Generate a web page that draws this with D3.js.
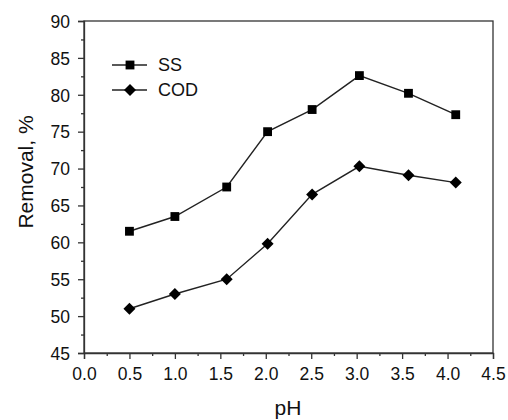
<!DOCTYPE html>
<html><head><meta charset="utf-8">
<script src="https://cdn.jsdelivr.net/npm/d3@7"></script>
<style>body{margin:0;background:#fff}svg{display:block}text{font-family:"Liberation Sans",Arial,sans-serif;fill:#111}</style>
</head><body>
<svg id="c" width="508" height="420"></svg>
<script>
const phSS = [0.5, 1.0, 1.57, 2.02, 2.51, 3.03, 3.57, 4.09];
const ssValues = [61.5, 63.5, 67.5, 75.0, 78.0, 82.6, 80.2, 77.3];
const phCOD = [0.5, 1.0, 1.57, 2.02, 2.51, 3.03, 3.57, 4.09];
const codValues = [51.0, 53.0, 55.0, 59.8, 66.5, 70.3, 69.1, 68.1];
const xTicks = [0.0, 0.5, 1.0, 1.5, 2.0, 2.5, 3.0, 3.5, 4.0, 4.5];
const yTicks = [45, 50, 55, 60, 65, 70, 75, 80, 85, 90];
const seriesNames = ["SS", "COD"];

const svg = d3.select("#c");
const L = 84, R = 493, T = 21, B = 353;
const x = d3.scaleLinear().domain([0, 4.5]).range([L, R]);
const y = d3.scaleLinear().domain([45, 90]).range([B, T]);
const axisColor = "#333";

svg.append("rect").attr("x", L).attr("y", T).attr("width", R - L).attr("height", B - T)
  .attr("fill", "none").attr("stroke", axisColor).attr("stroke-width", 1.3);

const xMinor = d3.range(0.25, 4.5, 0.5);
const yMinor = d3.range(47.5, 90, 5);
const gx = svg.append("g").attr("transform", `translate(0,${B})`)
  .call(d3.axisBottom(x).tickValues(xMinor).tickSize(3).tickFormat(""));
const gy = svg.append("g").attr("transform", `translate(${L},0)`)
  .call(d3.axisLeft(y).tickValues(yMinor).tickSize(3).tickFormat(""));
[gx, gy].forEach(g => { g.select(".domain").remove(); g.selectAll("line").attr("stroke", axisColor).attr("stroke-width", 1.3); });

const ax = svg.append("g").attr("transform", `translate(0,${B})`)
  .call(d3.axisBottom(x).tickValues(xTicks).tickSize(6).tickPadding(9).tickFormat(d3.format(".1f")));
const ay = svg.append("g").attr("transform", `translate(${L},0)`)
  .call(d3.axisLeft(y).tickValues(yTicks).tickSize(6).tickPadding(8).tickFormat(d3.format("d")));
[ax, ay].forEach(g => {
  g.select(".domain").attr("stroke", axisColor).attr("stroke-width", 1.3);
  g.selectAll("line").attr("stroke", axisColor).attr("stroke-width", 1.3);
  g.selectAll("text").attr("font-size", 17.5).attr("font-family", '"Liberation Sans",Arial,sans-serif').attr("fill", "#111");
});
ay.selectAll("text").attr("dy", "0.36em");

svg.append("text").attr("x", 288).attr("y", 415).attr("text-anchor", "middle")
  .attr("font-size", 21).text("pH");
svg.append("text").attr("transform", `translate(33,${172}) rotate(-90)`)
  .attr("text-anchor", "middle").attr("font-size", 21).text("Removal, %");

const line = d3.line().x(d => x(d[0])).y(d => y(d[1]));
const ssData = phSS.map((p, i) => [p, ssValues[i]]);
const codData = phCOD.map((p, i) => [p, codValues[i]]);
[ssData, codData].forEach(data => {
  svg.append("path").datum(data).attr("d", line).attr("fill", "none")
    .attr("stroke", "#222").attr("stroke-width", 1.4);
});

const sq = d3.symbol().type(d3.symbolSquare).size(78);
const diamondType = { draw(ctx, size) { const r = Math.sqrt(size / 2); ctx.moveTo(0, -r); ctx.lineTo(r, 0); ctx.lineTo(0, r); ctx.lineTo(-r, 0); ctx.closePath(); } };
const dia = d3.symbol().type(diamondType).size(72);
svg.append("g").selectAll("path").data(ssData).join("path")
  .attr("transform", d => `translate(${x(d[0])},${y(d[1])})`).attr("d", sq).attr("fill", "#000");
svg.append("g").selectAll("path").data(codData).join("path")
  .attr("transform", d => `translate(${x(d[0])},${y(d[1])})`).attr("d", dia).attr("fill", "#000");

const legY = [65, 90];
const syms = [sq, dia];
seriesNames.forEach((name, i) => {
  const g = svg.append("g");
  g.append("line").attr("x1", 112).attr("x2", 147).attr("y1", legY[i]).attr("y2", legY[i])
    .attr("stroke", "#222").attr("stroke-width", 1.4);
  g.append("path").attr("transform", `translate(130,${legY[i]})`).attr("d", syms[i]).attr("fill", "#000");
  g.append("text").attr("x", 158).attr("y", legY[i]).attr("dy", "0.36em").attr("font-size", 18).text(name);
});
</script>
</body></html>
